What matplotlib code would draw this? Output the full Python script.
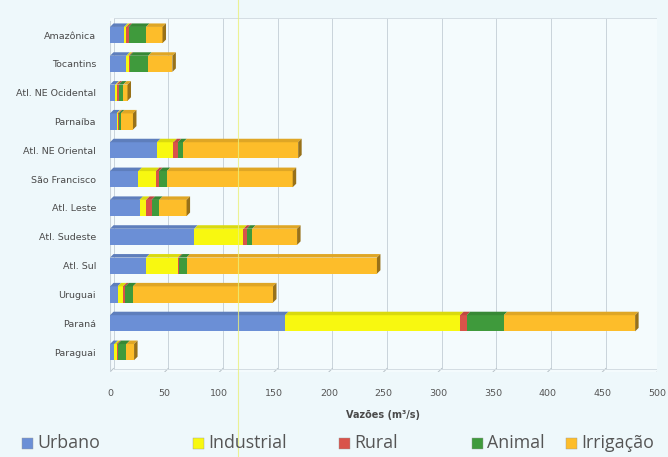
import matplotlib
matplotlib.use("Agg")
import matplotlib.pyplot as plt
import matplotlib.colors as mcolors
from matplotlib.patches import Polygon, Rectangle
from matplotlib.lines import Line2D
import numpy as np

# Water withdrawal by hydrographic region (m³/s), split by use
regioes = ["Amazônica", "Tocantins", "Atl. NE Ocidental", "Parnaíba",
           "Atl. NE Oriental", "São Francisco", "Atl. Leste", "Atl. Sudeste",
           "Atl. Sul", "Uruguai", "Paraná", "Paraguai"]
usos = ["Urbano", "Industrial", "Rural", "Animal", "Irrigação"]

urbano     = [13, 15, 5, 6, 43, 26, 27, 77, 33, 7, 160, 4]
industrial = [2, 2, 1, 1, 15, 16, 6, 45, 29, 5, 160, 2]
rural      = [2, 1, 2, 1, 4, 3, 5, 3, 1, 2, 6, 1]
animal     = [16, 17, 4, 2, 5, 7, 7, 5, 7, 7, 34, 8]
irrigacao  = [15, 22, 4, 11, 105, 115, 25, 41, 174, 128, 120, 7]

x_ticks = [0, 50, 100, 150, 200, 250, 300, 350, 400, 450, 500]

series = [urbano, industrial, rural, animal, irrigacao]
cores = ["#6b8fd6", "#f8f810", "#d9534a", "#3f9a3c", "#fdbd2a"]

W, H = 668, 457
fig = plt.figure(figsize=(W / 100, H / 100), dpi=100)
fig.patch.set_facecolor("#eef8fb")

ax_left, ax_right = 110 / W, 657 / W
ax_top, ax_bottom = 18 / H, 372 / H
ax = fig.add_axes([ax_left, 1 - ax_bottom, ax_right - ax_left, ax_bottom - ax_top])
ax.set_facecolor("#f4fbfd")
for s in ax.spines.values():
    s.set_visible(False)

n = len(regioes)
ypos = np.arange(n)
ax.set_xlim(0, 500)
ax.set_ylim(n - 1 + 0.69, -0.59)

px_x = 547 / 500            # pixels per x unit
px_y = 354 / (n - 1 + 0.69 + 0.59)  # pixels per y unit
dx = 3.5 / px_x            # depth offset (x, data units)
dy = 3.5 / px_y            # depth offset (y, data units)
bh = 0.56

# back wall gridlines and floor marks
ylo, yhi = n - 1 + 0.69, -0.59
for v in x_ticks:
    ax.plot([v + dx, v + dx], [ylo - dy, yhi], color="#c9d3da", lw=0.7, zorder=0)
    ax.plot([v, v + dx], [ylo, ylo - dy], color="#b8c2c8", lw=0.7, zorder=0)
ax.plot([0, 500], [ylo, ylo], color="#c9d3da", lw=0.7, zorder=0)
ax.plot([dx, 500 + dx], [ylo - dy, ylo - dy], color="#d4dde3", lw=0.7, zorder=0)
ax.plot([dx, 500 + dx], [yhi, yhi], color="#d4dde3", lw=0.7, zorder=0)
ax.plot([0, 0], [ylo, yhi + dy], color="#c9d3da", lw=0.8, zorder=0)

def darker(c, f):
    r, g, b = mcolors.to_rgb(c)
    return (r * f, g * f, b * f)

left = np.zeros(n)
for vals, cor in zip(series, cores):
    vals = np.array(vals, dtype=float)
    ax.barh(ypos, vals, left=left, height=bh, color=cor, edgecolor="none", zorder=3)
    for i in range(n):
        x0, x1 = left[i], left[i] + vals[i]
        yt = ypos[i] - bh / 2
        top = Polygon([(x0, yt), (x1, yt), (x1 + dx, yt - dy), (x0 + dx, yt - dy)],
                      closed=True, facecolor=darker(cor, 0.88), edgecolor="none", zorder=3)
        ax.add_patch(top)
    left = left + vals

# right end face of each stack
for i in range(n):
    x1 = left[i]
    yt, yb = ypos[i] - bh / 2, ypos[i] + bh / 2
    side = Polygon([(x1, yt), (x1 + dx, yt - dy), (x1 + dx, yb - dy), (x1, yb)],
                   closed=True, facecolor=darker(cores[-1], 0.6), edgecolor="none", zorder=3)
    ax.add_patch(side)

ax.set_yticks(ypos)
ax.set_yticklabels(regioes, fontsize=6.8, color="#4a4a4a")
ax.set_xticks(x_ticks)
ax.set_xticklabels([str(v) for v in x_ticks], fontsize=6.8, color="#555555")
ax.tick_params(axis="both", length=0)
ax.tick_params(axis="y", pad=10)
ax.tick_params(axis="x", pad=12)
ax.set_xlabel("Vazões (m³/s)", fontsize=7, fontweight="bold", color="#4a4a4a", labelpad=9)

# legend row
leg_x = [22, 193, 339, 472, 566]
leg_y = 1 - 443 / H
for name, cor, lx in zip(usos, cores, leg_x):
    fig.patches.append(Rectangle((lx / W, leg_y - 5.5 / H), 11 / W, 11 / H,
                                 transform=fig.transFigure, facecolor=cor,
                                 edgecolor="#999999", lw=0.3))
    fig.text((lx + 15) / W, leg_y, name, fontsize=12.8, color="#555555",
             va="center", ha="left", family="Open Sans")

# faint vertical line across the page
fig.add_artist(Line2D([238 / W, 238 / W], [0, 1], transform=fig.transFigure,
                      color="#eaf07a", lw=0.8, alpha=0.8))

fig.savefig("out.png", dpi=100, facecolor=fig.get_facecolor())
